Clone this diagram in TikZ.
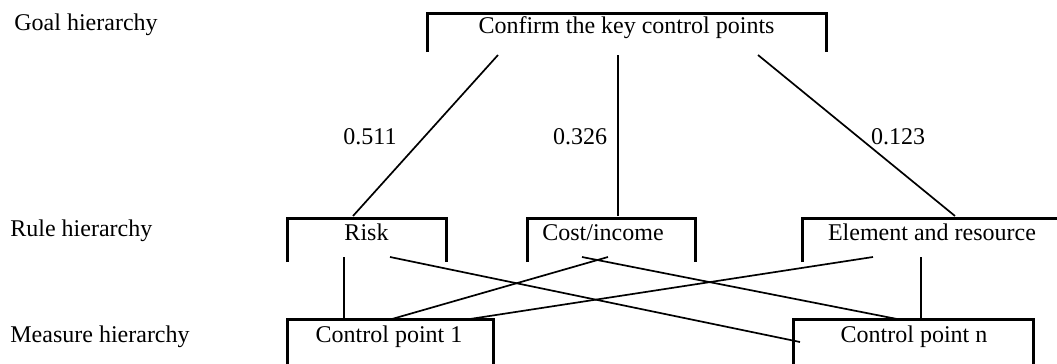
\documentclass[tikz,border=0pt]{standalone}
\usepackage{fontspec}
\setmainfont{Liberation Serif}
\usetikzlibrary{calc}
\begin{document}
\begin{tikzpicture}[x=0.5pt,y=-0.5pt,
  lbl/.style={inner sep=0pt,anchor=base,font=\fontsize{12}{14}\selectfont},
  side/.style={inner sep=0pt,anchor=base west,font=\fontsize{12}{14}\selectfont},
  bracket/.style={line width=1.5pt,line join=miter},
  conn/.style={line width=0.85pt}]
\clip (0,0) rectangle (1057,364);
\fill[white] (0,0) rectangle (1057,364);
% side labels
\node[side] (lg) at (14,31) {Goal hierarchy};
\node[side] (lr) at (10,236) {Rule hierarchy};
\node[side] (lm) at (10,342) {Measure hierarchy};
% box texts
\node[lbl] (goal) at (626.5,33) {Confirm the key control points};
\node[lbl] (risk) at (366.5,240) {Risk};
\node[lbl] (cost) at (603,240) {Cost/income};
\node[lbl] (elem) at (932,240) {Element and resource};
\node[lbl] (cp1) at (389,342) {Control point 1};
\node[lbl] (cpn) at (914,342) {Control point n};
% brackets
\draw[bracket] ($(goal.base)+(-199.5,19)$) -- ++(0,-39) -- ++(399,0) -- ++(0,39);
\draw[bracket] ($(risk.base)+(-79.5,22)$) -- ++(0,-44) -- ++(159,0) -- ++(0,44);
\draw[bracket] ($(cost.base)+(-76,22)$) -- ++(0,-44) -- ++(168,0) -- ++(0,44);
\draw[bracket] ($(elem.base)+(-130,22)$) -- ++(0,-44) -- ++(260,0) -- ++(0,44);
\draw[bracket] ($(cp1.base)+(-102,24)$) -- ++(0,-47) -- ++(206,0) -- ++(0,47);
\draw[bracket] ($(cpn.base)+(-121,24)$) -- ++(0,-47) -- ++(240,0) -- ++(0,47);
% weights
\node[lbl] (w1) at (370,144) {0.511};
\node[lbl] (w2) at (580,144) {0.326};
\node[lbl] (w3) at (898,144) {0.123};
% goal to rules
\draw[conn] ($(goal.base)+(-128.5,22)$) -- ($(risk.base)+(-13.5,-24)$);
\draw[conn] ($(goal.base)+(-8.5,22)$) -- ($(cost.base)+(15,-24)$);
\draw[conn] ($(goal.base)+(131.5,22)$) -- ($(elem.base)+(23,-24)$);
% rules to measures
\draw[conn] ($(risk.base)+(-22.5,17)$) -- ($(cp1.base)+(-45,-23)$);
\draw[conn] ($(risk.base)+(23.5,17)$) -- ($(cpn.base)+(-114,0)$);
\draw[conn] ($(cost.base)+(5,17)$) -- ($(cp1.base)+(3,-23)$);
\draw[conn] ($(cost.base)+(-21,17)$) -- ($(cpn.base)+(-17,-23)$);
\draw[conn] ($(elem.base)+(-59,17)$) -- ($(cp1.base)+(81,-23)$);
\draw[conn] ($(elem.base)+(-11,17)$) -- ($(cpn.base)+(7,-23)$);
\end{tikzpicture}
\end{document}
